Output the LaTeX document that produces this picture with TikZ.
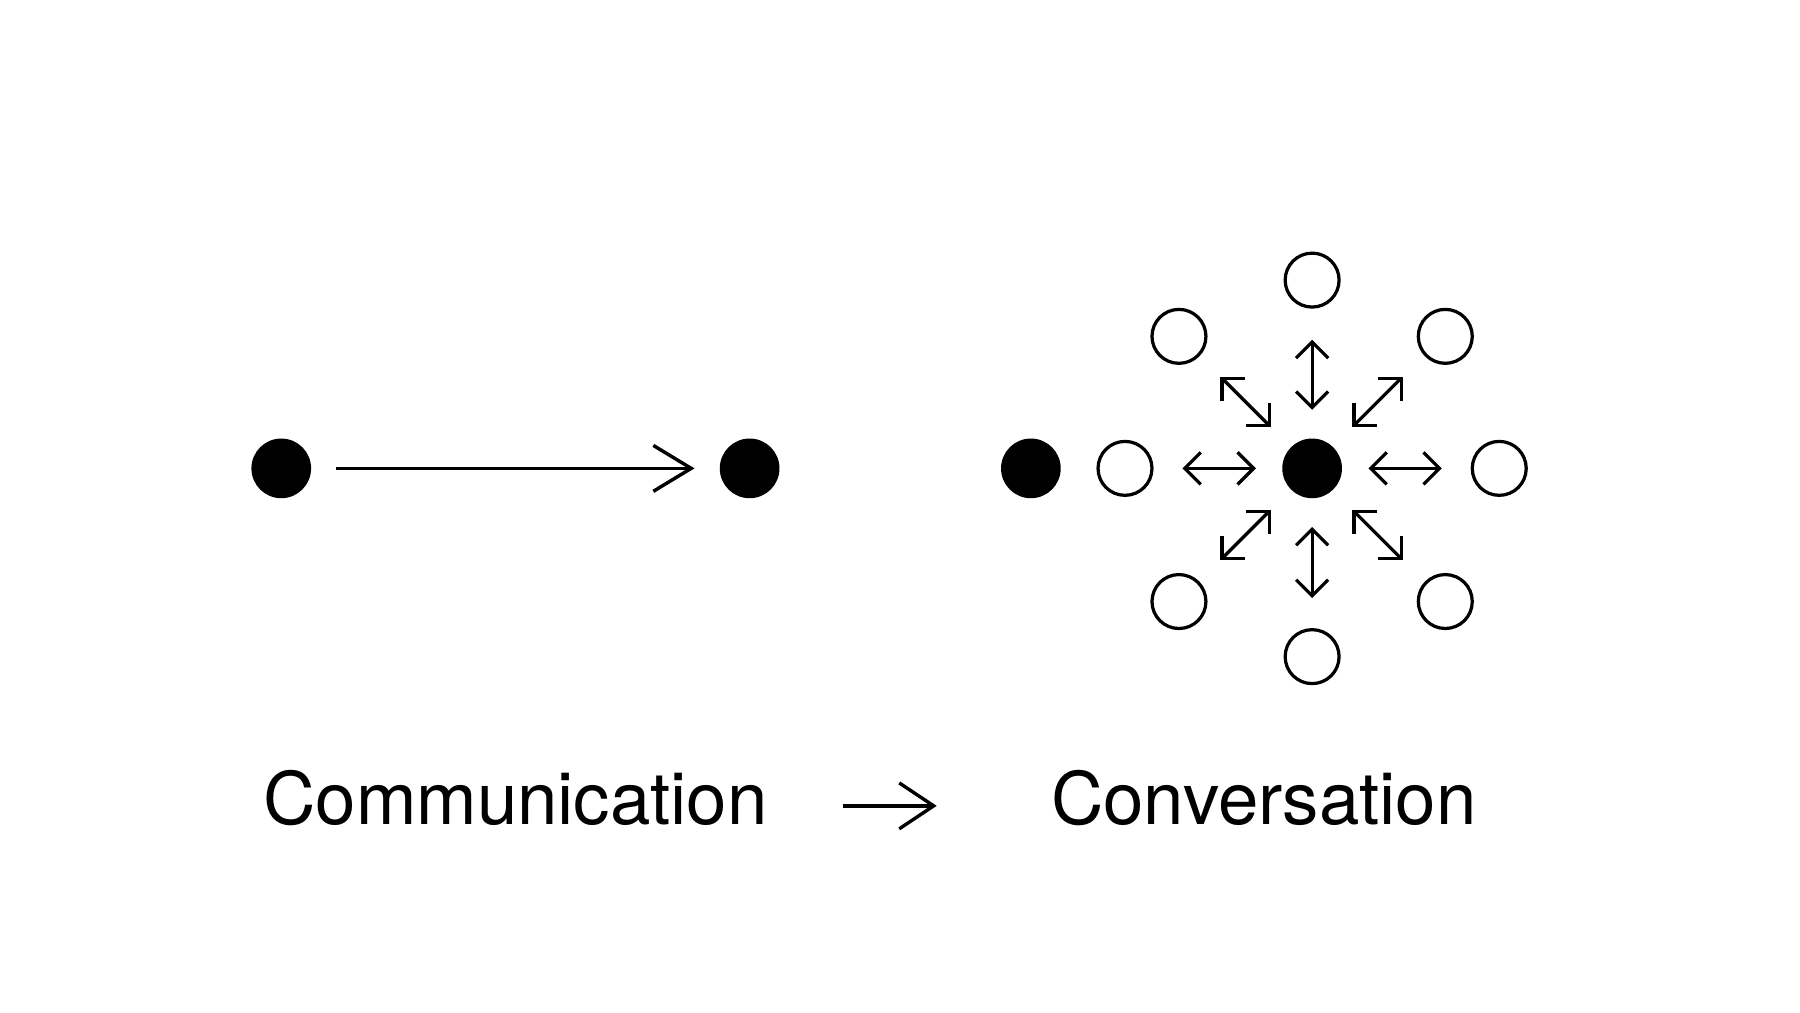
\documentclass[tikz,border=0pt]{standalone}
\usepackage{fontspec}
\setmainfont{TeX Gyre Heros}
\usetikzlibrary{arrows.meta}
\begin{document}
\begin{tikzpicture}[x=0.02cm,y=-0.02cm,line width=1.7pt,
  full/.style={circle,fill=black,minimum size=1.04cm,inner sep=0pt},
  empty/.style={circle,draw=black,line width=1.6pt,minimum size=0.94cm,inner sep=0pt},
  big/.style={-{Straight Barb[length=0.66cm,width=0.8cm,line width=1.7pt]}},
  dbl/.style={{Straight Barb[length=0.28cm,width=0.56cm,line width=1.6pt]}-{Straight Barb[length=0.28cm,width=0.56cm,line width=1.6pt]},line width=1.6pt},
  lbl/.style={font=\fontsize{36}{40}\selectfont,inner sep=0pt}]
\useasboundingbox (0,0) rectangle (1568,882);
\node[full] (a) at (245,408) {};
\node[full] (b) at (653,408) {};
\coordinate (as) at (293,408); \coordinate (ae) at (605,408);
\draw[big] (as) -- (ae);
\node[full] (l) at (898,408) {};
\node[full] (c) at (1143,408) {};
\node[empty] (o1) at (980,408) {};
\node[empty] (o2) at (1306,408) {};
\node[empty] (o3) at (1143,244) {};
\node[empty] (o4) at (1143,572) {};
\node[empty] (o5) at (1027,293) {};
\node[empty] (o6) at (1259,293) {};
\node[empty] (o7) at (1027,524) {};
\node[empty] (o8) at (1259,524) {};
\coordinate (h1a) at (1030,408); \coordinate (h1b) at (1094,408);
\coordinate (h2a) at (1192,408); \coordinate (h2b) at (1256,408);
\coordinate (v1a) at (1143,296); \coordinate (v1b) at (1143,357);
\coordinate (v2a) at (1143,459); \coordinate (v2b) at (1143,521);
\coordinate (d1a) at (1063,328); \coordinate (d1b) at (1107,372);
\coordinate (d2a) at (1222,328); \coordinate (d2b) at (1178,372);
\coordinate (d3a) at (1063,488); \coordinate (d3b) at (1107,444);
\coordinate (d4a) at (1222,488); \coordinate (d4b) at (1178,444);
\foreach \p in {h1,h2,v1,v2,d1,d2,d3,d4} \draw[dbl] (\p a) -- (\p b);
\node[lbl] (t1) at (449,695) {Communication};
\node[lbl] (t2) at (1101,695) {Conversation};
\coordinate (ms) at (734,702); \coordinate (me) at (816,702);
\draw[-{Straight Barb[length=0.6cm,width=0.8cm,line width=1.7pt]}] (ms) -- (me);
\end{tikzpicture}
\end{document}
